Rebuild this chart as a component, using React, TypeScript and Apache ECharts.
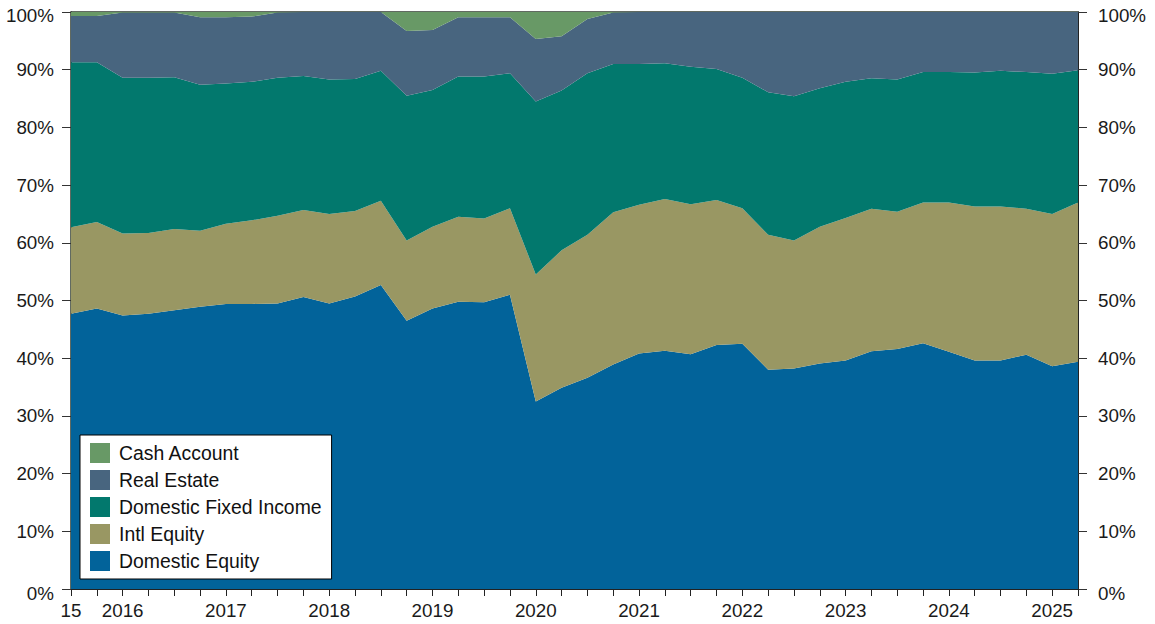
import React, { useEffect, useRef } from "react";
import * as echarts from "echarts";

const quarters = [
  "2015-07", "2015-10",
  "2016-01", "2016-04", "2016-07", "2016-10",
  "2017-01", "2017-04", "2017-07", "2017-10",
  "2018-01", "2018-04", "2018-07", "2018-10",
  "2019-01", "2019-04", "2019-07", "2019-10",
  "2020-01", "2020-04", "2020-07", "2020-10",
  "2021-01", "2021-04", "2021-07", "2021-10",
  "2022-01", "2022-04", "2022-07", "2022-10",
  "2023-01", "2023-04", "2023-07", "2023-10",
  "2024-01", "2024-04", "2024-07", "2024-10",
  "2025-01", "2025-04",
];

const domesticEquity = [
  47.7, 48.6, 47.4, 47.7, 48.3, 48.9, 49.4, 49.4, 49.5, 50.6,
  49.5, 50.7, 52.7, 46.5, 48.6, 49.8, 49.7, 51.0, 32.5, 34.9,
  36.6, 38.9, 40.8, 41.3, 40.7, 42.3, 42.5, 38.0, 38.2, 39.1,
  39.6, 41.2, 41.6, 42.6, 41.1, 39.6, 39.6, 40.6, 38.6, 39.4,
];
const intlEquity = [
  15.0, 15.0, 14.2, 14.0, 14.1, 13.2, 13.9, 14.5, 15.2, 15.1,
  15.5, 14.8, 14.6, 13.9, 14.2, 14.7, 14.5, 15.0, 22.0, 23.8,
  24.8, 26.4, 25.8, 26.3, 26.0, 25.1, 23.5, 23.4, 22.2, 23.7,
  24.7, 24.7, 23.8, 24.4, 25.9, 26.7, 26.7, 25.3, 26.4, 27.6,
];
const domesticFixedIncome = [
  28.6, 27.7, 27.0, 26.9, 26.3, 25.3, 24.3, 24.0, 23.9, 23.2,
  23.3, 22.9, 22.5, 25.1, 23.7, 24.3, 24.6, 23.4, 30.0, 27.7,
  28.0, 25.7, 24.4, 23.5, 23.8, 22.7, 22.6, 24.7, 25.0, 24.0,
  23.6, 22.6, 22.9, 22.6, 22.6, 23.2, 23.5, 23.7, 24.3, 22.9,
];
const realEstate = [
  8.0, 8.0, 11.3, 11.3, 11.2, 11.7, 11.5, 11.3, 11.3, 11.1,
  11.7, 11.6, 10.2, 11.2, 10.4, 10.3, 10.3, 9.7, 10.8, 9.4,
  9.4, 8.9, 9.0, 8.9, 9.5, 9.9, 11.4, 13.9, 14.6, 13.2,
  12.1, 11.5, 11.7, 10.4, 10.4, 10.5, 10.2, 10.4, 10.7, 10.1,
];
const cashAccount = [
  0.7, 0.7, 0.1, 0.1, 0.1, 0.9, 0.9, 0.8, 0.1, 0,
  0, 0, 0, 3.3, 3.1, 0.9, 0.9, 0.9, 4.7, 4.2,
  1.2, 0.1, 0, 0, 0, 0, 0, 0, 0, 0,
  0, 0, 0, 0, 0, 0, 0, 0, 0, 0,
];

const seriesNames = [
  "Domestic Equity",
  "Intl Equity",
  "Domestic Fixed Income",
  "Real Estate",
  "Cash Account",
];
const seriesColors = ["#02639a", "#999763", "#02786d", "#48657f", "#689966"];
const seriesData = [domesticEquity, intlEquity, domesticFixedIncome, realEstate, cashAccount];
const legendOrder = [...seriesNames].reverse();
const firstTickLabel = "15";

const FONT = "'Liberation Sans', Arial, sans-serif";

export default function App() {
  const ref = useRef<HTMLDivElement>(null);
  useEffect(() => {
    if (!ref.current) return;
    const chart = echarts.init(ref.current, null, { renderer: "svg" });
    const yLabel = (margin: number) => ({
      margin,
      fontSize: 18.8,
      fontFamily: FONT,
      color: "#1a1a1a",
      formatter: (v: number) => {
        if (v === 100) return `{top|${v}%}`;
        if (v === 0) return `{bot|${v}%}`;
        return `${v}%`;
      },
      rich: {
        top: { fontSize: 18.8, fontFamily: FONT, color: "#1a1a1a", padding: [6, 0, 0, 0] },
        bot: { fontSize: 18.8, fontFamily: FONT, color: "#1a1a1a", padding: [8, 0, 0, 0] },
      },
    });
    const yAxisCommon = {
      type: "value",
      min: 0,
      max: 100,
      interval: 10,
      axisLine: { show: true, lineStyle: { color: "#222", width: 1 } },
      axisTick: { show: true, length: 9, lineStyle: { color: "#333" } },
      splitLine: { show: false },
    };
    chart.setOption({
      animation: false,
      backgroundColor: "#ffffff",
      grid: {
        left: 71,
        right: 77,
        top: 12,
        bottom: 35,
        show: true,
        borderColor: "#2e3a2e",
        borderWidth: 1.5,
        backgroundColor: "transparent",
      },
      legend: {
        data: legendOrder,
        orient: "vertical",
        left: 80,
        top: 435,
        itemWidth: 20,
        itemHeight: 20,
        itemGap: 7,
        icon: "rect",
        padding: [8, 10, 8, 10],
        backgroundColor: "#ffffff",
        borderColor: "#000000",
        borderWidth: 1,
        selectedMode: false,
        textStyle: {
          fontSize: 19.4,
          fontFamily: FONT,
          color: "#111",
          lineHeight: 15,
          padding: [5, 0, 0, 4],
        },
      },
      xAxis: {
        type: "category",
        data: quarters,
        boundaryGap: false,
        axisLine: { show: true, lineStyle: { color: "#222", width: 1 } },
        axisTick: { show: true, interval: 0, length: 7, lineStyle: { color: "#222" } },
        splitLine: { show: false },
        axisLabel: {
          interval: 0,
          margin: 12,
          fontSize: 18.8,
          fontFamily: FONT,
          color: "#1a1a1a",
          formatter: (v: string, i: number) => {
            if (i === 0) return firstTickLabel;
            return v.endsWith("-01") ? v.slice(0, 4) : "";
          },
        },
      },
      yAxis: [
        { ...yAxisCommon, position: "left", axisLabel: yLabel(17) },
        { ...yAxisCommon, position: "right", axisLabel: yLabel(20) },
      ],
      series: seriesNames.map((name, k) => ({
        name,
        type: "line",
        stack: "total",
        data: seriesData[k],
        yAxisIndex: 0,
        symbol: "none",
        lineStyle: { width: 0 },
        itemStyle: { color: seriesColors[k] },
        areaStyle: { color: seriesColors[k], opacity: 1 },
        silent: true,
      })),
    });
    return () => chart.dispose();
  }, []);
  return (
    <div
      ref={ref}
      style={{ position: "absolute", left: 0, top: 0, width: 1155, height: 624 }}
    />
  );
}
